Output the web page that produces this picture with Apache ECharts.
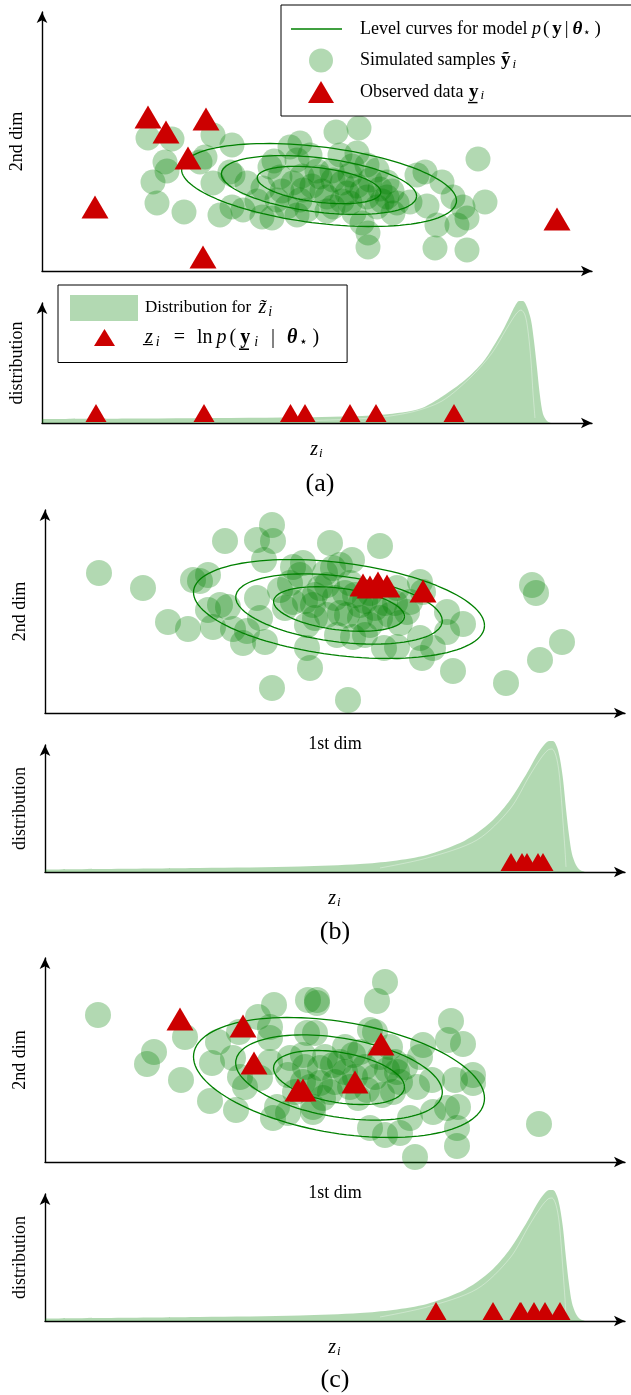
<!DOCTYPE html>
<html>
<head>
<meta charset="utf-8">
<script src="https://cdn.jsdelivr.net/npm/echarts@6/dist/echarts.min.js"></script>
<style>
html, body { margin: 0; padding: 0; background: #fff; }
#main { width: 631px; height: 1395px; }
</style>
</head>
<body>
<div id="main"></div>
<script>
const simA = [
  [106,133],[130,132],[171,136],[190,126],[123,109],[125,100],[111,89],[115,68],[142,59],[163,114],
  [158,109],[171,88],[188,99],[191,96],[178,56],[190,64],[201,61],[220,54],[230,53],[228,104],
  [221,83],[238,94],[235,71],[248,124],[258,128],[255,111],[251,88],[258,71],[255,56],[245,64],
  [294,139],[317,143],[268,116],[298,116],[315,118],[325,106],[335,101],[278,94],[291,91],[308,96],
  [328,91],[345,89],[261,81],[285,74],[305,78],[325,74],[345,74],[355,68],[368,69],[375,96],
  [383,99],[400,89],[385,65],[411,74],[421,64],[443,69],[436,112],[395,46],[415,46],[425,53],
  [393,23],[425,21],[326,24],[326,38],[320,48],[351,58],[335,64],[291,64],[265,61],[308,68],
  [270,85],[280,80],[300,88],[315,85],[320,80],[338,82],[290,100],[310,105],[275,100],[300,70],
  [340,70],[350,80],[260,95],[285,60],[312,58],[240,80],[232,110],[205,88],[215,70]
];
const obsA = [[106,154],[124,139],[164,152],[146,113],[53,64],[161,14],[515,52]];

const simB = [
  [54,140],[98,125],[123,91],[143,84],[148,133],[155,132],[163,138],[180,172],[212,173],[227,188],
  [228,172],[219,153],[163,103],[175,108],[183,106],[168,86],[188,84],[198,70],[202,82],[220,71],
  [215,95],[212,115],[235,123],[248,146],[258,150],[255,138],[262,65],[265,45],[227,25],[285,170],
  [248,111],[268,108],[282,98],[262,88],[275,125],[288,145],[303,13],[335,167],[307,153],[295,148],
  [375,131],[378,121],[402,101],[418,89],[402,81],[375,75],[388,65],[377,55],[408,42],[339,65],
  [352,66],[308,76],[292,78],[325,88],[345,98],[362,101],[365,111],[352,125],[315,108],[302,98],
  [282,128],[487,128],[491,120],[517,71],[495,53],[461,30],
  [290,115],[300,120],[310,118],[320,112],[330,105],[340,110],[270,118],[260,112],[295,100],[315,95],
  [335,95],[350,110],[325,120],[305,130],[280,140],[245,130],[240,105],[355,90],[320,78],[270,95]
];
const obsB = [[318,128],[325,126],[333,130],[342,127],[378,122]];

const simC = [
  [53,147],[109,110],[102,98],[136,82],[140,125],[165,61],[173,120],[167,99],[191,52],[194,130],
  [213,145],[229,157],[225,135],[225,124],[188,104],[195,85],[200,75],[215,84],[225,100],[228,44],
  [232,55],[243,49],[245,104],[258,107],[262,129],[272,162],[263,162],[270,129],[243,87],[258,80],
  [275,94],[278,64],[268,50],[340,180],[332,161],[272,159],[330,130],[325,132],[406,141],[403,122],
  [418,118],[378,117],[375,105],[428,87],[428,79],[410,82],[387,82],[372,75],[352,90],[342,92],
  [348,70],[337,67],[322,72],[313,64],[308,107],[288,97],[280,105],[275,79],[268,55],[325,34],
  [340,27],[355,29],[365,44],[388,50],[402,54],[413,55],[412,34],[412,16],[370,5],[494,38],[350,100],
  [290,80],[300,90],[310,85],[320,95],[305,75],[295,100],[285,70],[330,85],[315,110],[300,115],
  [260,95],[250,70],[265,75],[335,105],[355,80],[360,95],[345,115]
];
const obsC = [[135,143],[198,136],[209,99],[253,72],[258,72],[336,118],[310,80]];

// level curves: centre, then [x half-width, x-y coupling, y half-height] of the outer curve
const ellCenterA = [277, 86];
const ellShapeA = [137.5, -15.7, 38.4];
const ellCenterB = [294, 104];
const ellShapeB = [145.5, -16.6, 46.6];
const ellCenterC = [294, 84.5];
const ellShapeC = [145.5, -20.8, 56.3];
const levelScales = [0.45, 0.71, 1];

// density of z~_i (outer band and its faint inner edge)
const densityA = [
  [0,4],[100,4.5],[240,5.5],[320,7],[360,10.5],[380,15],[401,27],[423,43],[441,61],[451,76],
  [461,93],[468,107],[473,117],[477,122],[481,122],[485,116],[489,103],[492,82],[495,55],[498,27],
  [501,9],[505,2],[509,0]
];
const edgeA = [
  [250,2],[330,5],[370,11],[400,22],[430,47],[450,70],[465,95],[474,109],[479,113],[483,108],
  [486,92],[489,62],[491,30],[493,5]
];
const densityBC = [
  [0,2.5],[155,4],[255,5.5],[315,8],[348,11],[382,17],[415,29],[432,39],[448,52],[465,72],
  [482,99],[492,117],[499,127],[504,131],[508,131],[512,125],[515,113],[518,93],[521,63],[524,37],
  [527,18],[531,7],[535,2],[540,0]
];
const edgeBC = [
  [335,4],[382,14],[432,32],[465,63],[485,97],[496,114],[503,122],[507,123],[511,116],[514,100],
  [516,78],[518,50],[520,22],[521,5]
];

// z_i = ln p(y_i | theta*) of the observed points
const zObsA = [54, 162, 248.5, 263, 308, 334, 412];
const zObsB = [466, 477, 482, 493, 498];
const zObsC = [391, 448, 475, 476, 489, 500, 515];

const SERIF = '"Liberation Serif", "DejaVu Serif", serif';
const SIM = 'rgba(0,128,0,0.3)';
const GREEN = '#008000';
const RED = '#cc0000';

function richSet(size) {
  return {
    t: { fontFamily: SERIF, fontSize: size, color: '#000' },
    m: { fontFamily: SERIF, fontSize: size, fontStyle: 'italic', color: '#000' },
    mz: { fontFamily: SERIF, fontSize: 20, fontStyle: 'italic', color: '#000' },
    zt: { fontFamily: SERIF, fontSize: 20, fontStyle: 'italic', color: '#000', padding: [0, 0, 0, 3] },
    b: { fontFamily: SERIF, fontSize: size + 1, fontWeight: 'bold', color: '#000', padding: [0, 1, 0, 1] },
    bm: { fontFamily: SERIF, fontSize: size + 1, fontWeight: 'bold', fontStyle: 'italic', color: '#000', padding: [0, 0, 0, 2] },
    pa: { fontFamily: SERIF, fontSize: size + 1, color: '#000', padding: [0, 2, 0, 2] },
    s: { fontFamily: SERIF, fontSize: 12, padding: [8, 1, 0, 1], color: '#000' },
    si: { fontFamily: SERIF, fontSize: 13, fontStyle: 'italic', padding: [8, 1, 0, 1], color: '#000' },
    // wider math line of the lower legend
    mm: { fontFamily: SERIF, fontSize: 20, fontStyle: 'italic', color: '#000', padding: [0, 1, 0, 0] },
    mt: { fontFamily: SERIF, fontSize: 20, color: '#000', padding: [0, 4, 0, 0] },
    mb: { fontFamily: SERIF, fontSize: 20, fontWeight: 'bold', color: '#000', padding: [0, 2, 0, 3] },
    mbm: { fontFamily: SERIF, fontSize: 20, fontWeight: 'bold', fontStyle: 'italic', color: '#000', padding: [0, 0, 0, 2] },
    mpa: { fontFamily: SERIF, fontSize: 20, color: '#000', padding: [0, 1, 0, 2] },
    meq: { fontFamily: SERIF, fontSize: 20, color: '#000', padding: [0, 12, 0, 13] },
    mbar: { fontFamily: SERIF, fontSize: 20, color: '#000', padding: [0, 10, 0, 12] },
    msi: { fontFamily: SERIF, fontSize: 14, fontStyle: 'italic', padding: [9, 1, 0, 2], color: '#000' },
    ms: { fontFamily: SERIF, fontSize: 14, padding: [9, 2, 0, 2], color: '#000' }
  };
}

const legendText = {
  level: '{t|Level curves for model }{m|p}{pa|(}{b|y}{pa||}{bm|θ}{s|⋆}{pa|)}',
  sim: '{t|Simulated samples }{b|ỹ}{si|i}',
  obs: '{t|Observed data }{b|y̲}{si|i}',
  dens: '{t|Distribution for }{zt|z̃}{msi|i}',
  zobs: '{mm|z̲}{msi|i}{meq|=}{mt|ln}{mm|p}{mpa|(}{mb|y̲}{msi|i}{mbar||}{mbm|θ}{ms|⋆}{mpa|)}'
};

const grids = [
  { left: 42, top: 12, width: 550, height: 259 },
  { left: 42, top: 303, width: 550, height: 120 },
  { left: 45, top: 510, width: 580, height: 203 },
  { left: 45, top: 745, width: 580, height: 127 },
  { left: 45, top: 958, width: 580, height: 204 },
  { left: 45, top: 1194, width: 580, height: 127 }
];

const panels = [
  { sim: simA, obs: obsA, center: ellCenterA, shape: ellShapeA, dens: densityA, edge: edgeA, z: zObsA, dot: 25, xName: '' },
  { sim: simB, obs: obsB, center: ellCenterB, shape: ellShapeB, dens: densityBC, edge: edgeBC, z: zObsB, dot: 26, xName: '1st dim' },
  { sim: simC, obs: obsC, center: ellCenterC, shape: ellShapeC, dens: densityBC, edge: edgeBC, z: zObsC, dot: 26, xName: '1st dim' }
];

function ellipse(center, shape, k) {
  const pts = [];
  for (let i = 0; i <= 120; i++) {
    const t = (i / 120) * 2 * Math.PI;
    pts.push([
      center[0] + k * shape[0] * Math.cos(t),
      center[1] + k * (shape[1] * Math.cos(t) + shape[2] * Math.sin(t))
    ]);
  }
  return pts;
}

function axisLine() {
  return {
    show: true,
    onZero: false,
    symbol: ['none', 'arrow'],
    symbolSize: [8, 11],
    lineStyle: { color: '#000', width: 1.4 }
  };
}

function axis(g, max, name, gap) {
  return {
    type: 'value',
    gridIndex: g,
    min: 0,
    max: max,
    axisLine: axisLine(),
    axisTick: { show: false },
    axisLabel: { show: false },
    splitLine: { show: false },
    name: name,
    nameLocation: 'middle',
    nameGap: gap,
    nameTextStyle: { fontFamily: SERIF, fontSize: 18, color: '#000', rich: richSet(18) }
  };
}

const xAxis = [];
const yAxis = [];
const series = [];

panels.forEach((p, i) => {
  const gs = 2 * i;
  const gd = 2 * i + 1;
  xAxis.push(axis(gs, grids[gs].width, p.xName, 22));
  yAxis.push(Object.assign(axis(gs, grids[gs].height, '2nd dim', 16), { nameRotate: 90 }));
  xAxis.push(axis(gd, grids[gd].width, '{mz|z}{si|i}', 16));
  yAxis.push(Object.assign(axis(gd, grids[gd].height, 'distribution', 16), { nameRotate: 90 }));

  series.push({
    name: 'sim', type: 'scatter', xAxisIndex: gs, yAxisIndex: gs, z: 2,
    symbol: 'circle', symbolSize: p.dot, data: p.sim,
    itemStyle: { color: SIM, opacity: 1 }
  });
  levelScales.forEach(k => {
    series.push({
      name: 'level', type: 'line', xAxisIndex: gs, yAxisIndex: gs, z: 3,
      symbol: 'none', smooth: false, clip: false,
      data: ellipse(p.center, p.shape, k),
      color: GREEN,
      lineStyle: { color: GREEN, width: 1.3 }
    });
  });
  series.push({
    name: 'obs', type: 'scatter', xAxisIndex: gs, yAxisIndex: gs, z: 4,
    symbol: 'triangle', symbolSize: [27, 23], data: p.obs,
    itemStyle: { color: RED, opacity: 1 }
  });

  series.push({
    name: 'dens', type: 'line', xAxisIndex: gd, yAxisIndex: gd, z: 2,
    symbol: 'none', smooth: 0.3, clip: false,
    data: p.dens, color: SIM,
    lineStyle: { width: 0 },
    areaStyle: { color: SIM, opacity: 1 }
  });
  series.push({
    name: 'edge', type: 'line', xAxisIndex: gd, yAxisIndex: gd, z: 3,
    symbol: 'none', smooth: 0.3, clip: false,
    data: p.edge,
    lineStyle: { color: 'rgba(255,255,255,0.35)', width: 1 }
  });
  series.push({
    name: 'zobs', type: 'scatter', xAxisIndex: gd, yAxisIndex: gd, z: 4,
    symbol: 'triangle', symbolSize: [21, 18],
    data: p.z.map(v => [v, 10]),
    itemStyle: { color: RED, opacity: 1 }
  });
});

const chart = echarts.init(document.getElementById('main'), null, { renderer: 'canvas' });

chart.setOption({
  backgroundColor: '#fff',
  animation: false,
  grid: grids,
  xAxis: xAxis,
  yAxis: yAxis,
  legend: [
    {
      left: 281, top: 5, orient: 'vertical', z: 10,
      padding: [12, 70, 12, 10], itemGap: 7.5, itemWidth: 51, itemHeight: 24,
      symbolKeepAspect: true,
      borderColor: '#000', borderWidth: 1, backgroundColor: '#fff', borderRadius: 0,
      selectedMode: false,
      data: [
        { name: 'level', icon: 'path://M0,0M51,24M0,11.3L51,11.3L51,12.7L0,12.7Z', itemStyle: { color: GREEN } },
        { name: 'sim', icon: 'path://M0,0M51,24M18,12A12,12,0,1,1,42,12A12,12,0,1,1,18,12Z', itemStyle: { color: SIM, opacity: 1 } },
        { name: 'obs', icon: 'path://M0,0M51,24M30,1L43,23L17,23Z', itemStyle: { color: RED, opacity: 1 } }
      ],
      formatter: n => legendText[n],
      textStyle: { fontFamily: SERIF, fontSize: 18, color: '#000', padding: [0, 0, 0, 13], rich: richSet(18) }
    },
    {
      left: 58, top: 285, orient: 'vertical', z: 10,
      padding: [10, 28, 12, 12], itemGap: 3.5, itemWidth: 68, itemHeight: 26,
      symbolKeepAspect: true,
      borderColor: '#000', borderWidth: 1, backgroundColor: '#fff', borderRadius: 0,
      selectedMode: false,
      data: [
        { name: 'dens', icon: 'path://M0,0L68,0L68,26L0,26Z', itemStyle: { color: SIM, opacity: 1, borderWidth: 0 } },
        { name: 'zobs', icon: 'path://M0,0M68,26M34.5,4.5L45,21.5L24,21.5Z', itemStyle: { color: RED, opacity: 1 } }
      ],
      formatter: n => legendText[n],
      textStyle: { fontFamily: SERIF, fontSize: 17, color: '#000', padding: [0, 0, 0, 2], rich: richSet(17) }
    }
  ],
  graphic: [
    { type: 'text', x: 320, y: 484, style: { text: '(a)', font: '26px "Liberation Serif"', fill: '#000', align: 'center', verticalAlign: 'middle' } },
    { type: 'text', x: 335, y: 932, style: { text: '(b)', font: '26px "Liberation Serif"', fill: '#000', align: 'center', verticalAlign: 'middle' } },
    { type: 'text', x: 335, y: 1380, style: { text: '(c)', font: '26px "Liberation Serif"', fill: '#000', align: 'center', verticalAlign: 'middle' } }
  ],
  series: series
});

window.addEventListener('resize', chart.resize);
</script>
</body>
</html>
